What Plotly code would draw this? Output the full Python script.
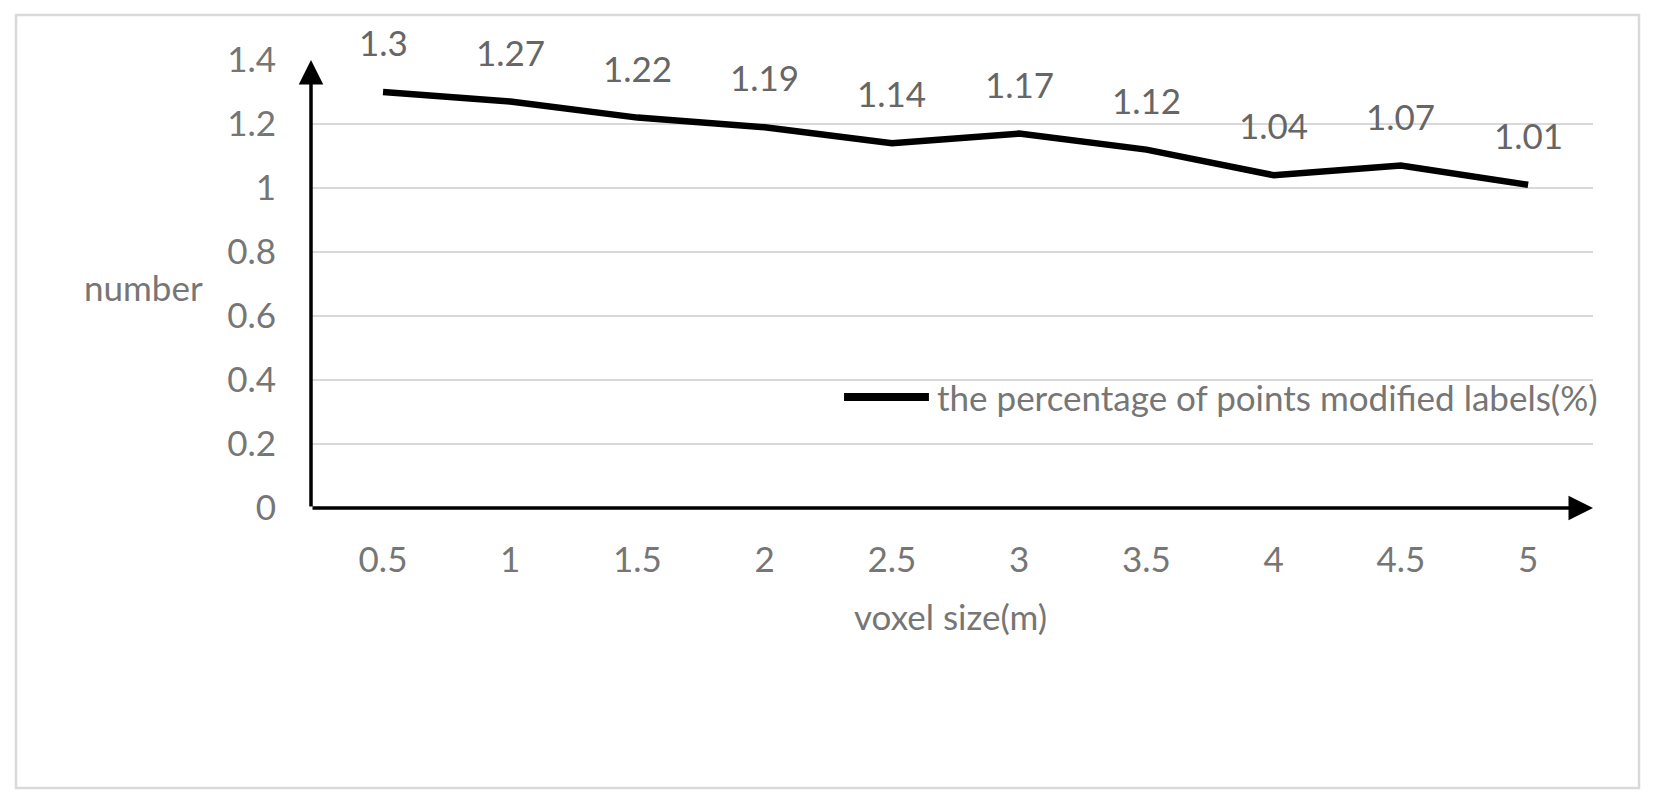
import plotly.graph_objects as go

# values
voxel_size = [0.5, 1, 1.5, 2, 2.5, 3, 3.5, 4, 4.5, 5]
pct_modified = [1.3, 1.27, 1.22, 1.19, 1.14, 1.17, 1.12, 1.04, 1.07, 1.01]

SERIES_NAME = "the percentage of points modified labels(%)"
X_TITLE = "voxel size(m)"
Y_TITLE = "number"

FONT = "Lato, 'Open Sans', sans-serif"
FS = 35
GREY = "#767676"
LABEL_GREY = "#666666"
GRID = "#d9d9d9"

X_MIN, X_MAX = 0.217, 5.255
Y_MIN, Y_MAX = 0, 1.4

fig = go.Figure()

fig.add_trace(go.Scatter(
    x=voxel_size,
    y=pct_modified,
    mode="lines",
    line=dict(color="black", width=6.5),
    name=SERIES_NAME,
    showlegend=False,
))

# data labels sit well above each point, like the Excel original
annotations = []
for xv, yv in zip(voxel_size, pct_modified):
    annotations.append(dict(
        x=xv, y=yv, xref="x", yref="y",
        text=f"{yv:g}", showarrow=False,
        yshift=50, yanchor="middle",
        font=dict(size=FS, color=LABEL_GREY, family=FONT),
    ))

# axis arrows
annotations.append(dict(
    x=X_MIN, y=Y_MAX, ax=X_MIN, ay=Y_MIN,
    xref="x", yref="y", axref="x", ayref="y",
    text="", showarrow=True, arrowhead=2, arrowsize=1.4,
    arrowwidth=3.5, arrowcolor="black", standoff=0, startstandoff=0,
))
annotations.append(dict(
    x=X_MAX, y=Y_MIN, ax=X_MIN, ay=Y_MIN,
    xref="x", yref="y", axref="x", ayref="y",
    text="", showarrow=True, arrowhead=2, arrowsize=1.4,
    arrowwidth=3.5, arrowcolor="black", standoff=0, startstandoff=0,
))

# axis titles
annotations.append(dict(
    x=-0.131, y=0.493, xref="paper", yref="paper",
    text=Y_TITLE, showarrow=False, xanchor="center", yanchor="middle",
    font=dict(size=FS, color=GREY, family=FONT),
))
annotations.append(dict(
    x=0.499, y=-0.24, xref="paper", yref="paper",
    text=X_TITLE, showarrow=False, xanchor="center", yanchor="middle",
    font=dict(size=FS, color=GREY, family=FONT),
))

# legend entry drawn by hand so the sample line is Excel-long
annotations.append(dict(
    x=0.4867, y=0.2478, xref="paper", yref="paper",
    text=SERIES_NAME, showarrow=False, xanchor="left", yanchor="middle",
    font=dict(size=FS, color=GREY, family=FONT),
))

shapes = [
    dict(type="line", xref="paper", yref="paper",
         x0=0.4158, x1=0.482, y0=0.2478, y1=0.2478,
         line=dict(color="black", width=8)),
    # outer chart border
    dict(type="rect", xref="paper", yref="paper",
         x0=-0.2301, x1=1.0359, y0=-0.625, y1=1.1004,
         line=dict(color=GRID, width=2.5), layer="below"),
]

fig.update_xaxes(
    range=[X_MIN, X_MAX],
    tickmode="linear", tick0=0.5, dtick=0.5,
    showgrid=False, zeroline=False, showline=False,
    ticks="", ticklabelstandoff=28,
    tickfont=dict(size=FS, color=GREY, family=FONT),
)
fig.update_yaxes(
    range=[Y_MIN, Y_MAX],
    tickmode="linear", tick0=0, dtick=0.2,
    showgrid=True, gridcolor=GRID, gridwidth=2,
    zeroline=False, showline=False,
    ticks="", ticklabelstandoff=34,
    tickfont=dict(size=FS, color=GREY, family=FONT),
)

fig.update_layout(
    width=1658,
    height=808,
    margin=dict(l=311, r=65, t=60, b=300),
    paper_bgcolor="white",
    plot_bgcolor="white",
    showlegend=False,
    annotations=annotations,
    shapes=shapes,
    font=dict(family=FONT, color=GREY),
)

# drop the default body margin so the chart sits flush in the window
fig.write_html(
    "out.html",
    config={"displayModeBar": False},
    post_script="document.body.style.margin='0';",
)
